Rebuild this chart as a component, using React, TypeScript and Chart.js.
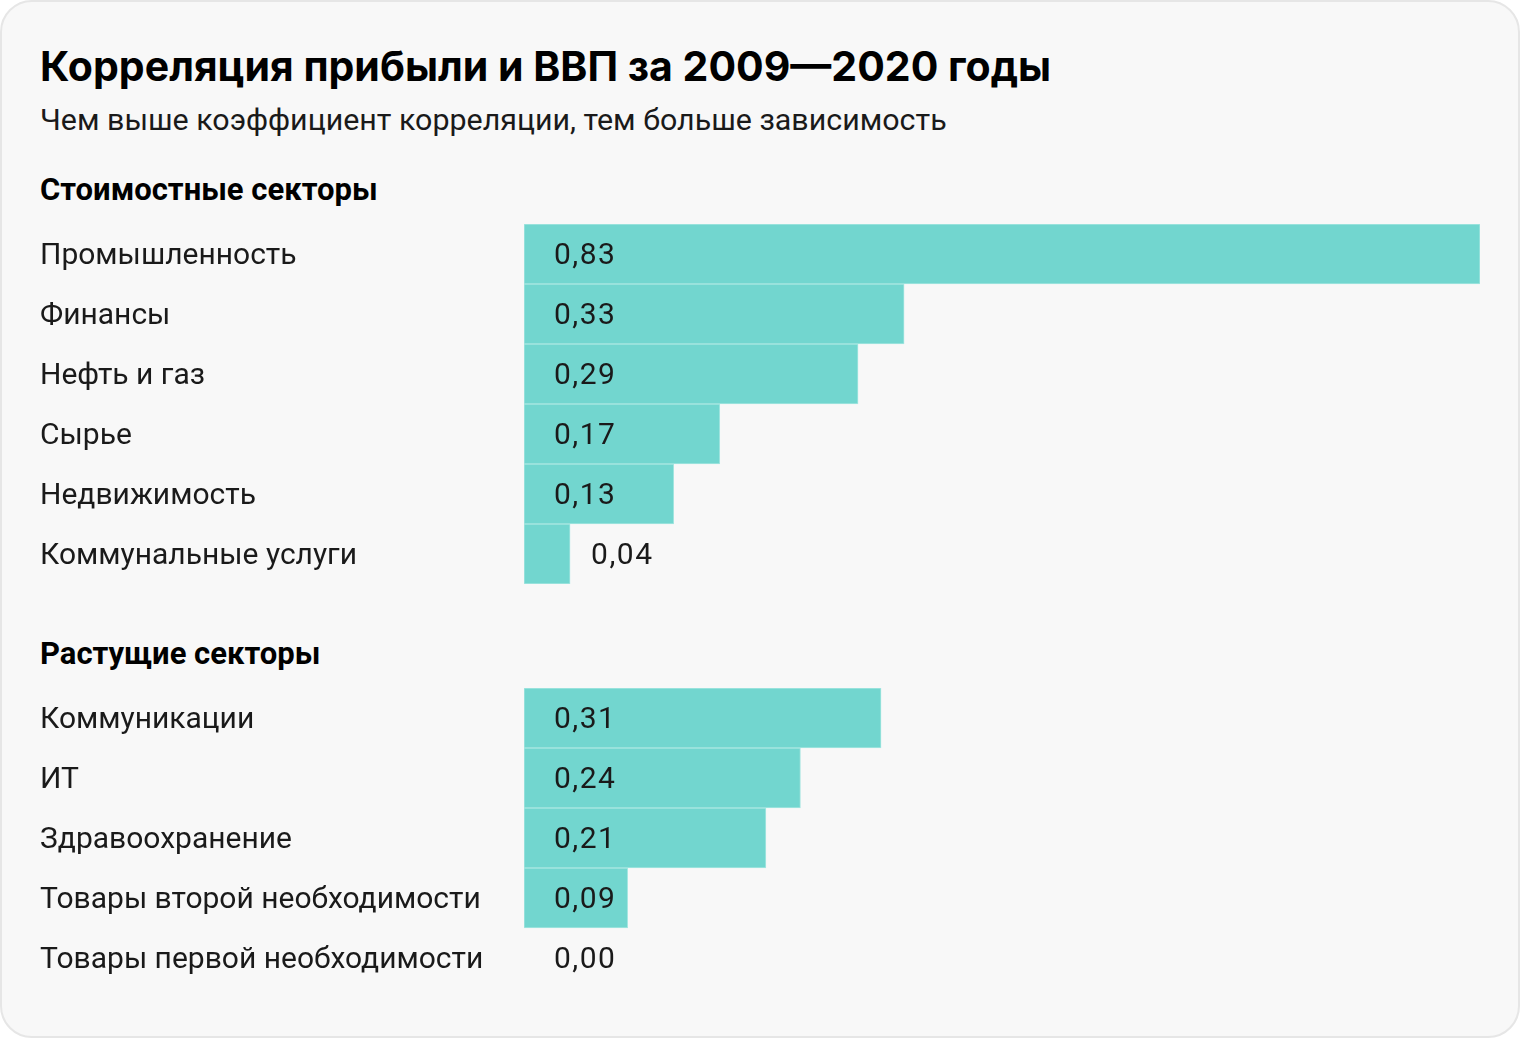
import React, { useEffect, useRef } from "react";
import { Chart, registerables } from "chart.js";

Chart.register(...registerables);

const title = "Корреляция прибыли и ВВП за 2009—2020 годы";
const subtitle = "Чем выше коэффициент корреляции, тем больше зависимость";

const valueHeader = "Стоимостные секторы";
const valueCategories = [
  "Промышленность",
  "Финансы",
  "Нефть и газ",
  "Сырье",
  "Недвижимость",
  "Коммунальные услуги",
];
const valueValues = [0.83, 0.33, 0.29, 0.17, 0.13, 0.04];

const growthHeader = "Растущие секторы";
const growthCategories = [
  "Коммуникации",
  "ИТ",
  "Здравоохранение",
  "Товары второй необходимости",
  "Товары первой необходимости",
];
const growthValues = [0.31, 0.24, 0.21, 0.09, 0.0];

const X_MAX = 0.83;
const BAR_COLOR = "#72d6cf";
const BAR_BORDER = "#a6e6e1";
const FONT = "Roboto, 'Noto Sans', sans-serif";
const TITLE_FONT = "Inter, Roboto, sans-serif";

const labelPlugin = {
  id: "valueLabels",
  afterDatasetsDraw(chart: any) {
    const ctx = chart.ctx;
    const meta = chart.getDatasetMeta(0);
    const data = chart.data.datasets[0].data as number[];
    ctx.save();
    ctx.font = `400 30px ${FONT}`;
    try {
      (ctx as any).letterSpacing = "1.5px";
    } catch (e) {}
    ctx.fillStyle = "#1a1a1a";
    ctx.textAlign = "left";
    ctx.textBaseline = "middle";
    const start = chart.scales.x.getPixelForValue(0);
    meta.data.forEach((bar: any, i: number) => {
      const end = bar.x;
      const txt = data[i].toFixed(2).replace(".", ",");
      const w = ctx.measureText(txt).width;
      const inside = end - start >= 30 + w + 10;
      const x = inside ? start + 30 : Math.max(start + 30, end + 21);
      ctx.fillText(txt, x, bar.y + 2);
    });
    ctx.restore();
  },
};

function BarBlock({ labels, values, top }: { labels: string[]; values: number[]; top: number }) {
  const ref = useRef<HTMLCanvasElement>(null);
  useEffect(() => {
    if (!ref.current) return;
    const chart = new Chart(ref.current, {
      type: "bar",
      data: {
        labels,
        datasets: [
          {
            data: values,
            backgroundColor: BAR_COLOR,
            borderColor: BAR_BORDER,
            borderWidth: 1,
            borderSkipped: false,
            categoryPercentage: 1,
            barPercentage: 1,
          },
        ],
      },
      options: {
        indexAxis: "y",
        animation: false,
        responsive: false,
        maintainAspectRatio: false,
        layout: { padding: { left: 40, right: 40, top: 0, bottom: 0 } },
        plugins: { legend: { display: false }, tooltip: { enabled: false } },
        scales: {
          x: { display: false, min: 0, max: X_MAX },
          y: {
            grid: { display: false },
            border: { display: false },
            afterFit(scale: any) {
              scale.width = 484;
              scale.paddingTop = 0;
              scale.paddingBottom = 0;
            },
            ticks: {
              crossAlign: "far",
              color: "#1a1a1a",
              font: { family: FONT, size: 30 },
              padding: 0,
              labelOffset: 2,
            },
          },
        },
      },
      plugins: [labelPlugin],
    });
    return () => chart.destroy();
  }, []);
  const h = labels.length * 60;
  return (
    <canvas
      ref={ref}
      width={1520}
      height={h}
      style={{ position: "absolute", left: -2, top, width: 1520, height: h }}
    />
  );
}

export default function App() {
  const textBase: React.CSSProperties = {
    position: "absolute",
    left: 38,
    margin: 0,
    whiteSpace: "nowrap",
    fontFamily: FONT,
    color: "#1a1a1a",
  };
  return (
    <div
      style={{
        position: "absolute",
        left: 0,
        top: 0,
        width: 1520,
        height: 1038,
        boxSizing: "border-box",
        border: "2px solid #e6e6e6",
        borderRadius: 32,
        background: "#f8f8f8",
        overflow: "hidden",
      }}
    >
      <div
        style={{
          ...textBase,
          top: 40,
          fontFamily: TITLE_FONT,
          fontSize: 41,
          lineHeight: "48px",
          fontWeight: 700,
          color: "#000",
        }}
      >
        {title}
      </div>
      <div style={{ ...textBase, top: 100, fontSize: 30.4, lineHeight: "36px", fontWeight: 400 }}>
        {subtitle}
      </div>
      <div style={{ ...textBase, top: 170, fontSize: 31, lineHeight: "36px", fontWeight: 700, color: "#000" }}>
        {valueHeader}
      </div>
      <div style={{ ...textBase, top: 634, fontSize: 31, lineHeight: "36px", fontWeight: 700, color: "#000" }}>
        {growthHeader}
      </div>
      <BarBlock labels={valueCategories} values={valueValues} top={222} />
      <BarBlock labels={growthCategories} values={growthValues} top={686} />
    </div>
  );
}
